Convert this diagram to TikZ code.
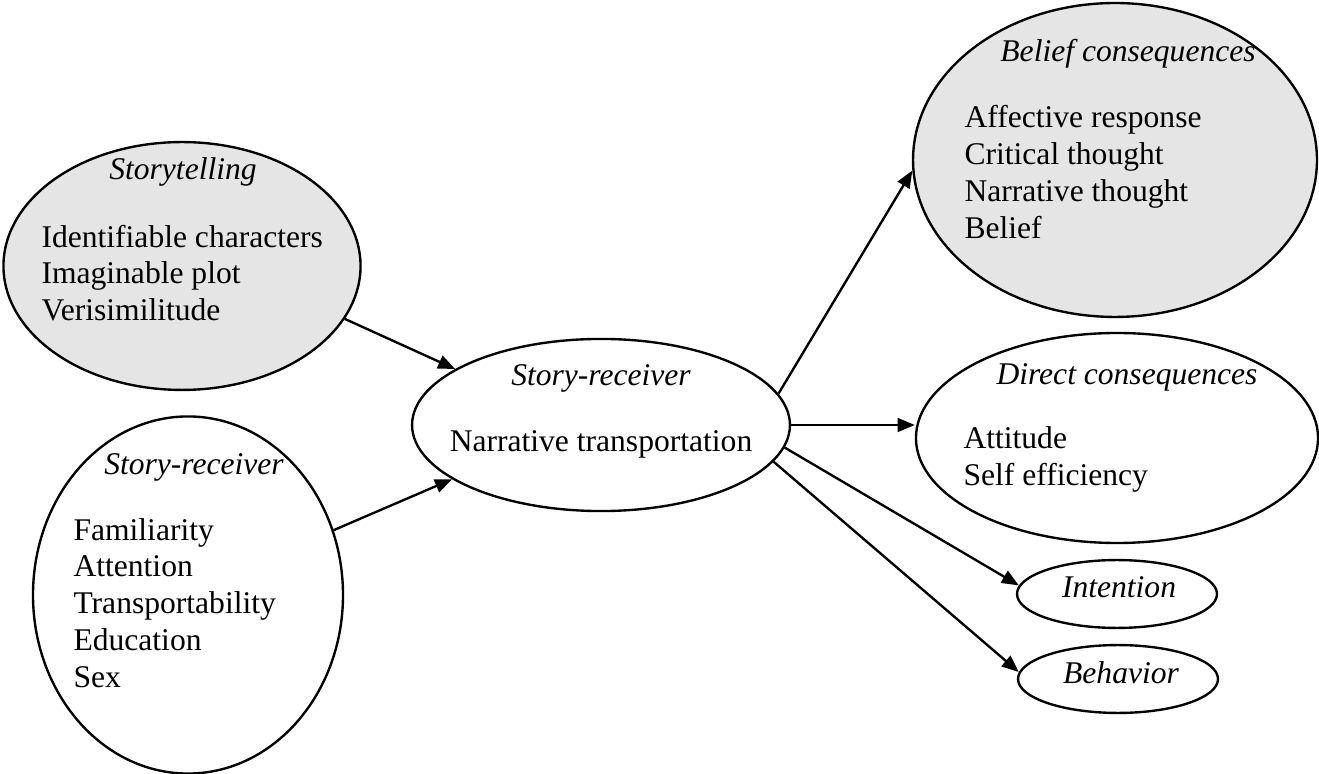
\documentclass[tikz,border=0pt]{standalone}
\usepackage{fontspec}
\setmainfont{Liberation Serif}
\usepackage{tikz}
\usetikzlibrary{shapes.geometric, arrows.meta, positioning, calc}

\begin{document}
\begin{tikzpicture}[
        x=0.38pt, y=-0.38pt,
        font=\fontsize{12pt}{14pt}\selectfont,
        oval/.style={
            ellipse, draw=black, line width=0.9pt,
            fill=white, inner sep=0pt
        },
        shaded/.style={oval, fill=black!10},
        head/.style={
            anchor=base, inner sep=0pt,
            font=\fontsize{12pt}{14pt}\selectfont\itshape
        },
        % multi-line lists sit on the baseline of their last line
        items/.style={anchor=base west, align=left, inner sep=0pt},
        arr/.style={-{Triangle[length=6.5pt,width=5.2pt]}, line width=0.9pt, black}
    ]
    \useasboundingbox (0,0) rectangle (1319,774);

    % ellipses
    \node[shaded, minimum width=135.7pt, minimum height=94.2pt] (tell) at (182,266) {};
    \node[oval, minimum width=117.8pt, minimum height=135.7pt] (recv) at (188,595) {};
    \node[oval, minimum width=143.6pt, minimum height=65.4pt] (core) at (601,425) {};
    \node[shaded, minimum width=153.5pt, minimum height=119.3pt] (belief) at (1115,160) {};
    \node[oval, minimum width=152.8pt, minimum height=79.8pt] (direct) at (1117,438) {};
    \node[oval, minimum width=76pt, minimum height=25.8pt] (intent) at (1117,594) {};
    \node[oval, minimum width=76pt, minimum height=25.8pt] (behav) at (1118,679) {};

    % texts
    \node[head] (tellhead) at (183,180) {Storytelling};
    \node[items] (tellitems) at (41,320.7) {Identifiable characters\\Imaginable plot\\Verisimilitude};
    \node[head] (recvhead) at (194,475) {Story-receiver};
    \node[items] (recvitems) at (73,687.4) {Familiarity\\Attention\\Transportability\\Education\\Sex};
    \node[head] (corehead) at (601,386) {Story-receiver};
    \node[anchor=base, inner sep=0pt] (coreitems) at (601,452) {Narrative transportation};
    \node[head] (belhead) at (1128,62) {Belief consequences};
    \node[items] (belitems) at (964,238.5) {Affective response\\Critical thought\\Narrative thought\\Belief};
    \node[head] (dirhead) at (1127,385) {Direct consequences};
    \node[items] (diritems) at (963,485.8) {Attitude\\Self efficiency};
    \node[head] (intenthead) at (1119,598) {Intention};
    \node[head] (behavhead) at (1121,683) {Behavior};

    % arrows
    \draw[arr] (tell.-18) -- (core.159);
    \draw[arr] (recv.24) -- (core.-160);
    \draw[arr] (core.10) -- (belief.183);
    \draw[arr] (core.east) -- (core.east -| direct.west);
    \draw[arr] (core.-7) -- (intent.175);
    \draw[arr] (core.-12) -- (behav.176);

\end{tikzpicture}
\end{document}
